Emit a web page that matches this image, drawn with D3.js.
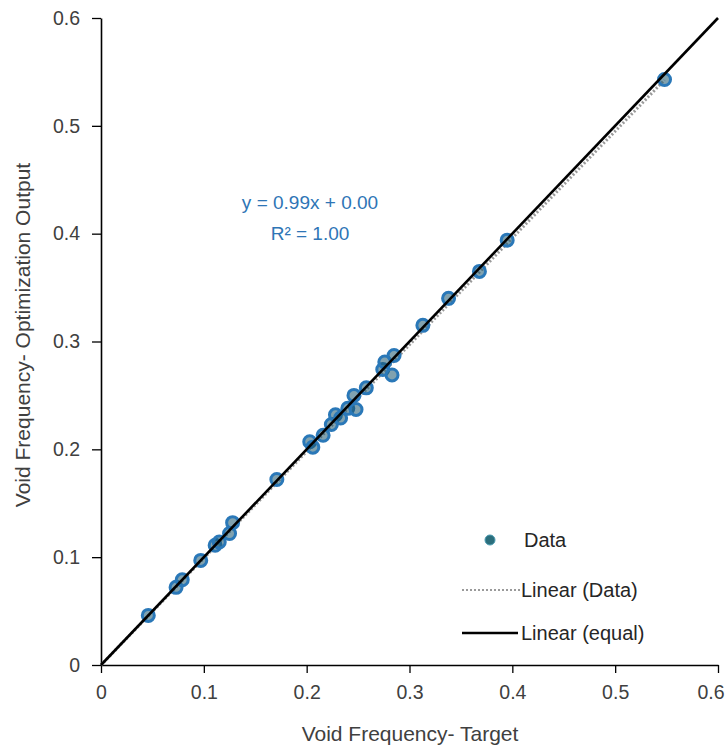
<!DOCTYPE html>
<html><head><meta charset="utf-8">
<script src="https://cdn.jsdelivr.net/npm/d3@7"></script>
<style>body{margin:0;background:#fff}svg{display:block}</style>
</head><body>
<svg id="chart" width="725" height="749"></svg>
<script>
const targetX = [0.046,0.073,0.079,0.097,0.111,0.115,0.125,0.128,0.171,0.203,0.206,0.216,0.224,0.228,0.233,0.240,0.246,0.248,0.258,0.274,0.276,0.283,0.285,0.313,0.338,0.368,0.395,0.548];
const outputY = [0.046,0.072,0.079,0.097,0.111,0.114,0.122,0.132,0.172,0.207,0.202,0.213,0.223,0.232,0.229,0.238,0.250,0.237,0.257,0.274,0.281,0.269,0.287,0.315,0.340,0.365,0.394,0.543];
const tickVals = [0,0.1,0.2,0.3,0.4,0.5,0.6];
const tickLabels = ["0","0.1","0.2","0.3","0.4","0.5","0.6"];
const fitSlope = 0.99, fitIntercept = 0.00;
const legendLabels = ["Data","Linear (Data)","Linear (equal)"];
const eqLines = ["y = 0.99x + 0.00","R\u00b2 = 1.00"];

const svg = d3.select("#chart");
const font = "'Liberation Sans', Arial, sans-serif";
const x = d3.scaleLinear().domain([0,0.6]).range([101,718]);
const y = d3.scaleLinear().domain([0,0.6]).range([665,18]);

const xAxis = svg.append("g").attr("transform","translate(0,665)")
  .call(d3.axisBottom(x).tickValues(tickVals).tickFormat((d,i)=>tickLabels[i]).tickSize(8).tickSizeOuter(0));
const yAxis = svg.append("g").attr("transform","translate(101,0)")
  .call(d3.axisLeft(y).tickValues(tickVals).tickFormat((d,i)=>tickLabels[i]).tickSize(9).tickSizeOuter(0));
[xAxis,yAxis].forEach(a=>{
  a.select(".domain").attr("stroke","#000").attr("stroke-width",1.6);
  a.selectAll(".tick line").attr("stroke","#000").attr("stroke-width",1.3);
  a.selectAll("text").attr("font-family",font).attr("font-size",19.5).attr("fill","#404040");
});
xAxis.selectAll("text").attr("y",20).attr("dy","0.71em");
xAxis.selectAll(".tick").filter(d=>d===0.6).select("text").attr("text-anchor","end").attr("x",6);
yAxis.selectAll("text").attr("x",-21);

// axis titles
svg.append("text").attr("x",410).attr("y",741).attr("text-anchor","middle")
  .attr("font-family",font).attr("font-size",21).attr("fill","#404040").text("Void Frequency- Target");
svg.append("text").attr("transform","translate(30,335) rotate(-90)").attr("text-anchor","middle")
  .attr("font-family",font).attr("font-size",21).attr("fill","#404040").text("Void Frequency- Optimization Output");

// trendline (data)
const xMax = d3.max(targetX);
svg.append("line").attr("x1",x(0)).attr("y1",y(fitIntercept)).attr("x2",x(xMax)).attr("y2",y(fitSlope*xMax+fitIntercept))
  .attr("stroke","#9a9a9a").attr("stroke-width",3).attr("stroke-dasharray","2,2");

// points
svg.append("g").selectAll("circle").data(targetX).join("circle")
  .attr("cx",d=>x(d)).attr("cy",(d,i)=>y(outputY[i])).attr("r",6)
  .attr("fill","rgba(25,85,110,0.55)").attr("stroke","#2a78b8").attr("stroke-width",3);

// equal line
svg.append("line").attr("x1",x(0)).attr("y1",y(0)).attr("x2",x(0.6)).attr("y2",y(0.6))
  .attr("stroke","#000").attr("stroke-width",2.6);

// equation
eqLines.forEach((t,i)=>{
  svg.append("text").attr("x",310).attr("y",209+i*31).attr("text-anchor","middle")
    .attr("font-family",font).attr("font-size",19).attr("fill","#2e75b6").text(t);
});

// legend
const lg = svg.append("g").attr("font-family",font).attr("font-size",20).attr("fill","#262626");
lg.append("circle").attr("cx",490).attr("cy",540).attr("r",5).attr("fill","#2b6e7c").attr("stroke","#4a9ab0").attr("stroke-width",1);
lg.append("line").attr("x1",462).attr("x2",522).attr("y1",590).attr("y2",590).attr("stroke","#9a9a9a").attr("stroke-width",2).attr("stroke-dasharray","2,2");
lg.append("line").attr("x1",462).attr("x2",518).attr("y1",633).attr("y2",633).attr("stroke","#000").attr("stroke-width",2.6);
[540,590,633].forEach((yy,i)=>{
  lg.append("text").attr("x",i===0?524:521).attr("y",yy).attr("dy","0.35em").text(legendLabels[i]);
});
</script>
</body></html>
